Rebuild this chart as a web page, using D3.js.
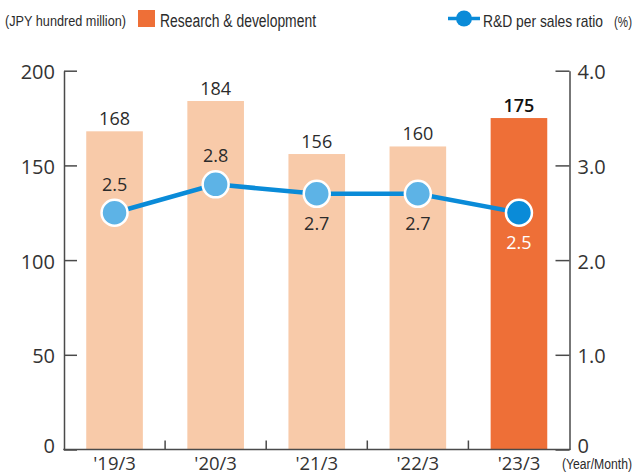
<!DOCTYPE html>
<html>
<head>
<meta charset="utf-8">
<script src="https://cdn.jsdelivr.net/npm/d3@7"></script>
<style>
  html, body { margin: 0; padding: 0; background: #fff; }
  svg { display: block; }
</style>
</head>
<body>
<svg id="chart" width="634" height="475"></svg>
<script>
// Fiscal years (ending March)
const categories = ["'19/3", "'20/3", "'21/3", "'22/3", "'23/3"];
// R&D expenses, JPY hundred million
const rdValues = [168, 184, 156, 160, 175];
// R&D per sales ratio, %
const ratioValues = [2.5, 2.8, 2.7, 2.7, 2.5];
// Axis ticks
const leftTicks = [0, 50, 100, 150, 200];
const rightTicks = [0, 1, 2, 3, 4];
const rightTickLabels = ["0", "1.0", "2.0", "3.0", "4.0"];
// Ratio label placement per point: above or below the marker
const ratioLabelSide = ["above", "above", "below", "below", "below"];

const svg = d3.select("#chart");
const numFont = "'Open Sans', 'Noto Sans', sans-serif";
const narrowFont = "'Liberation Sans Narrow', 'Liberation Sans', sans-serif";
const axisColor = "#4a4a4a";
const textColor = "#2b2b2b";

const plotLeft = 64, plotRight = 569.5, plotTop = 70.7, plotBottom = 449.5;

const x = d3.scaleBand().domain(categories).range([plotLeft, plotRight])
  .paddingInner(0.44).paddingOuter(0.22);
const yL = d3.scaleLinear().domain([0, 200]).range([plotBottom, plotTop]);
const yR = d3.scaleLinear().domain([0, 4]).range([plotBottom, plotTop]);

// Bars
const lastIdx = categories.length - 1;
svg.append("g").selectAll("rect").data(rdValues).join("rect")
  .attr("x", (d, i) => x(categories[i]))
  .attr("width", x.bandwidth())
  .attr("y", d => yL(d))
  .attr("height", d => yL(0) - yL(d))
  .attr("fill", (d, i) => i === lastIdx ? "#ee6f37" : "#f8caa9");

// Bar value labels
svg.append("g").selectAll("text").data(rdValues).join("text")
  .attr("x", (d, i) => x(categories[i]) + x.bandwidth() / 2)
  .attr("y", d => yL(d) - 6)
  .attr("text-anchor", "middle")
  .attr("font-family", numFont)
  .attr("font-size", 18)
  .attr("font-weight", (d, i) => i === lastIdx ? 600 : 400)
  .attr("fill", (d, i) => i === lastIdx ? "#111" : textColor)
  .text(d => d);

// Left axis
const gL = svg.append("g").attr("transform", `translate(${plotLeft},0)`)
  .call(d3.axisLeft(yL).tickValues(leftTicks).tickSizeInner(-13).tickSizeOuter(0).tickPadding(9));
// Right axis
const gR = svg.append("g").attr("transform", `translate(${plotRight},0)`)
  .call(d3.axisRight(yR).tickValues(rightTicks).tickSizeInner(-14).tickSizeOuter(0).tickPadding(8)
    .tickFormat((d, i) => rightTickLabels[i]));
[gL, gR].forEach(g => {
  g.select(".domain").attr("stroke", axisColor).attr("stroke-width", 1.5);
  g.selectAll(".tick line").attr("stroke", axisColor).attr("stroke-width", 1.5);
  g.selectAll(".tick text").attr("font-family", numFont).attr("font-size", 20)
    .attr("fill", "#333").attr("dy", d => d === 0 ? "0.15em" : "0.4em");
});

// Bottom axis with separators between categories
const gB = svg.append("g").attr("transform", `translate(0,${plotBottom})`)
  .call(d3.axisBottom(x).tickSize(0).tickPadding(7));
gB.select(".domain").remove();
gB.selectAll(".tick text").attr("font-family", numFont).attr("font-size", 18.5)
  .attr("fill", "#333").attr("dy", "0.72em");
gB.append("line").attr("x1", plotLeft - 0.75).attr("x2", plotRight + 0.75)
  .attr("y1", 0).attr("y2", 0).attr("stroke", axisColor).attr("stroke-width", 1.5);
gB.selectAll(".sep").data(categories.slice(1)).join("line")
  .attr("class", "sep")
  .attr("x1", d => x(d) - x.step() * x.paddingInner() / 2)
  .attr("x2", d => x(d) - x.step() * x.paddingInner() / 2)
  .attr("y1", 0).attr("y2", -9)
  .attr("stroke", axisColor).attr("stroke-width", 1.5);
svg.append("text").attr("x", 562).attr("y", 469)
  .attr("font-family", narrowFont).attr("font-size", 14).attr("fill", textColor)
  .attr("textLength", 70).attr("lengthAdjust", "spacingAndGlyphs")
  .text("(Year/Month)");

// Ratio line
const cx = i => x(categories[i]) + x.bandwidth() / 2;
const line = d3.line().x((d, i) => cx(i)).y(d => yR(d));
svg.append("path").datum(ratioValues).attr("d", line)
  .attr("fill", "none").attr("stroke", "#0a8bd8").attr("stroke-width", 4.5);
svg.append("g").selectAll("circle").data(ratioValues).join("circle")
  .attr("cx", (d, i) => cx(i)).attr("cy", d => yR(d)).attr("r", 13)
  .attr("fill", (d, i) => i === lastIdx ? "#0a8bd8" : "#5db3e6")
  .attr("stroke", "#fff").attr("stroke-width", 2.5);

// Ratio labels
svg.append("g").selectAll("text").data(ratioValues).join("text")
  .attr("x", (d, i) => cx(i))
  .attr("y", (d, i) => ratioLabelSide[i] === "above" ? yR(d) - 22 : yR(d) + 36)
  .attr("text-anchor", "middle")
  .attr("font-family", numFont).attr("font-size", 18)
  .attr("fill", (d, i) => i === lastIdx ? "#fff" : textColor)
  .text(d => d.toFixed(1));

// Header: unit and legends
svg.append("text").attr("x", 5).attr("y", 26)
  .attr("font-family", narrowFont).attr("font-size", 15).attr("fill", textColor)
  .attr("textLength", 121).attr("lengthAdjust", "spacingAndGlyphs")
  .text("(JPY hundred million)");
svg.append("rect").attr("x", 138).attr("y", 10).attr("width", 17).attr("height", 17)
  .attr("fill", "#ee6f37");
svg.append("text").attr("x", 160).attr("y", 27)
  .attr("font-family", narrowFont).attr("font-size", 18).attr("fill", textColor)
  .attr("textLength", 156).attr("lengthAdjust", "spacingAndGlyphs")
  .text("Research & development");
svg.append("line").attr("x1", 448).attr("x2", 480).attr("y1", 18.5).attr("y2", 18.5)
  .attr("stroke", "#0a8bd8").attr("stroke-width", 3.5);
svg.append("circle").attr("cx", 464).attr("cy", 18.5).attr("r", 8).attr("fill", "#0a8bd8");
svg.append("text").attr("x", 483).attr("y", 27)
  .attr("font-family", narrowFont).attr("font-size", 17).attr("fill", textColor)
  .attr("textLength", 120).attr("lengthAdjust", "spacingAndGlyphs")
  .text("R&D per sales ratio");
svg.append("text").attr("x", 614).attr("y", 27)
  .attr("font-family", narrowFont).attr("font-size", 15).attr("fill", textColor)
  .attr("textLength", 18).attr("lengthAdjust", "spacingAndGlyphs")
  .text("(%)");
</script>
</body>
</html>
